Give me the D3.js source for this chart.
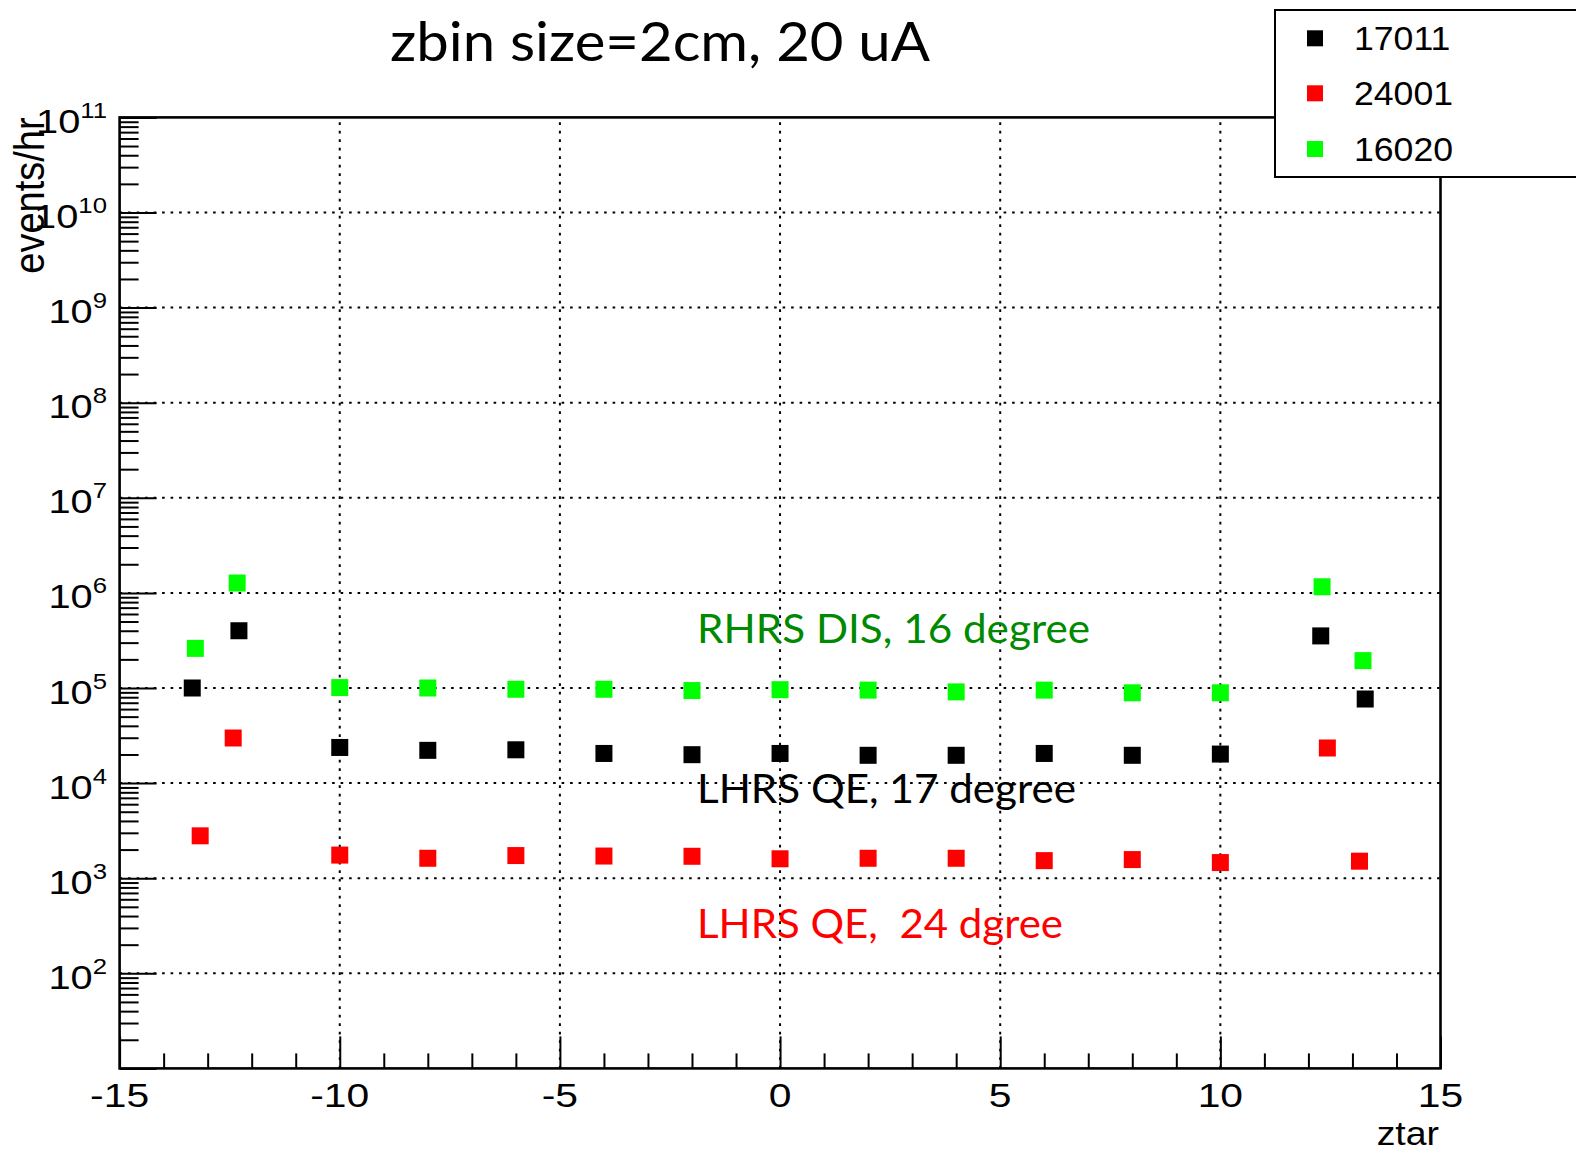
<!DOCTYPE html>
<html>
<head>
<meta charset="utf-8">
<script src="https://cdn.jsdelivr.net/npm/d3@7"></script>
<style>
  html, body { margin: 0; padding: 0; background: #fff; }
  svg { display: block; }
  text { white-space: pre; }
</style>
</head>
<body>
<svg id="chart" width="1576" height="1153"></svg>
<script>
// ---------------- data ----------------
const seriesNames = ["17011", "24001", "16020"];
const seriesColors = ["#000000", "#ff0000", "#00ff00"];

const x17011 = [-13.35, -12.29, -10, -8, -6, -4, -2, 0, 2, 4, 6, 8, 10, 12.28, 13.29];
const y17011 = [1.0e5, 4.0e5, 2.37e4, 2.21e4, 2.24e4, 2.05e4, 1.99e4, 2.05e4, 1.96e4, 1.96e4, 2.05e4, 1.96e4, 2.02e4, 3.53e5, 7.66e4];

const x24001 = [-13.17, -12.42, -10, -8, -6, -4, -2, 0, 2, 4, 6, 8, 10, 12.43, 13.16];
const y24001 = [2.79e3, 2.98e4, 1.75e3, 1.62e3, 1.73e3, 1.71e3, 1.70e3, 1.60e3, 1.62e3, 1.62e3, 1.53e3, 1.57e3, 1.46e3, 2.34e4, 1.51e3];

const x16020 = [-13.28, -12.33, -10, -8, -6, -4, -2, 0, 2, 4, 6, 8, 10, 12.31, 13.24];
const y16020 = [2.61e5, 1.27e6, 1.01e5, 1.0e5, 0.97e5, 0.97e5, 0.94e5, 0.96e5, 0.95e5, 0.91e5, 0.95e5, 0.89e5, 0.89e5, 1.16e6, 1.94e5];

const xMajorTicks = [-15, -10, -5, 0, 5, 10, 15];
const xTickLabels = ["-15", "-10", "-5", "0", "5", "10", "15"];
const xGridTicks = [-10, -5, 0, 5, 10];
const yDecades = [1e1, 1e2, 1e3, 1e4, 1e5, 1e6, 1e7, 1e8, 1e9, 1e10, 1e11];
const yLabelExponents = ["2", "3", "4", "5", "6", "7", "8", "9", "10", "11"];

const titleText = "zbin size=2cm, 20 uA";
const xTitle = "ztar";
const yTitle = "events/hr";
const annotations = [
  { text: "RHRS DIS, 16 degree", color: "#008a00" },
  { text: "LHRS QE, 17 degree", color: "#000000" },
  { text: "LHRS QE,  24 dgree", color: "#ff0000" }
];

// ---------------- layout ----------------
const L = 119.6, R = 1440.5, T = 117.4, B = 1068.4;
const svg = d3.select("#chart");

const x = d3.scaleLinear().domain([-15, 15]).range([L, R]);
const y = d3.scaleLog().domain([1e1, 1e11]).range([B, T]);

const series = [
  { name: seriesNames[0], color: seriesColors[0], xs: x17011, ys: y17011 },
  { name: seriesNames[1], color: seriesColors[1], xs: x24001, ys: y24001 },
  { name: seriesNames[2], color: seriesColors[2], xs: x16020, ys: y16020 }
];

// grid
const grid = svg.append("g").attr("stroke", "#000").attr("stroke-width", 2)
  .attr("stroke-dasharray", "2.6,5.9").attr("fill", "none");
grid.selectAll("line.v").data(xGridTicks).join("line")
  .attr("x1", d => x(d)).attr("x2", d => x(d)).attr("y1", B).attr("y2", T);
grid.selectAll("line.h").data(yDecades.slice(1, -1)).join("line")
  .attr("y1", d => y(d)).attr("y2", d => y(d)).attr("x1", L).attr("x2", R);

// x minor ticks
const xMinor = d3.range(-14, 15).filter(v => v % 5 !== 0);
svg.append("g").attr("transform", `translate(0,${B})`)
  .call(d3.axisBottom(x).tickValues(xMinor).tickSizeInner(-15).tickSizeOuter(0).tickFormat(""))
  .call(g => g.select(".domain").remove())
  .call(g => g.selectAll("line").attr("stroke-width", 2));
// x major ticks
svg.append("g").attr("transform", `translate(0,${B})`)
  .call(d3.axisBottom(x).tickValues(xMajorTicks).tickSizeInner(-32).tickSizeOuter(0).tickFormat(""))
  .call(g => g.select(".domain").remove())
  .call(g => g.selectAll("line").attr("stroke-width", 2));

// y minor ticks
const yMinor = [];
yDecades.slice(0, -1).forEach(d => { for (let k = 2; k <= 9; k++) yMinor.push(d * k); });
svg.append("g").attr("transform", `translate(${L},0)`)
  .call(d3.axisLeft(y).tickValues(yMinor).tickSizeInner(-19).tickSizeOuter(0).tickFormat(""))
  .call(g => g.select(".domain").remove())
  .call(g => g.selectAll("line").attr("stroke-width", 2));
svg.append("g").attr("transform", `translate(${L},0)`)
  .call(d3.axisLeft(y).tickValues(yDecades).tickSizeInner(-37).tickSizeOuter(0).tickFormat(""))
  .call(g => g.select(".domain").remove())
  .call(g => g.selectAll("line").attr("stroke-width", 2));

// frame
svg.append("rect").attr("x", L).attr("y", T).attr("width", R - L).attr("height", B - T)
  .attr("fill", "none").attr("stroke", "#000").attr("stroke-width", 2.6);

// x tick labels
svg.append("g").selectAll("g").data(xMajorTicks).join("g")
  .attr("transform", d => `translate(${x(d)},1107) scale(1.2,1)`)
  .append("text").attr("text-anchor", "middle")
  .attr("font-family", "Liberation Sans, Arial, sans-serif").attr("font-size", 34)
  .text((d, i) => xTickLabels[i]);

// y tick labels
const yl = svg.append("g").selectAll("g").data(yDecades.slice(1)).join("g")
  .attr("transform", d => `translate(107,${y(d) + 15.5}) scale(1.17,1)`)
  .append("text").attr("text-anchor", "end")
  .attr("font-family", "Liberation Sans, Arial, sans-serif");
yl.append("tspan").attr("font-size", 34).text("10");
yl.append("tspan").attr("font-size", 22).attr("dy", -15).text((d, i) => yLabelExponents[i]);

// axis titles
svg.append("g").attr("transform", `translate(1439,1145) scale(1.1,1)`)
  .append("text").attr("text-anchor", "end")
  .attr("font-family", "Liberation Sans, Arial, sans-serif").attr("font-size", 34)
  .text(xTitle);
svg.append("g").attr("transform", `translate(43.5,${T}) scale(1.12,1) rotate(-90)`)
  .append("text").attr("text-anchor", "end")
  .attr("font-family", "Liberation Sans, Arial, sans-serif").attr("font-size", 38)
  .text(yTitle);

// annotations
const annoBase = [642.7, 803.3, 938.3];
const annoLen = [393, 379, 366];
svg.append("g").selectAll("text").data(annotations).join("text")
  .attr("x", 697).attr("y", (d, i) => annoBase[i])
  .attr("textLength", (d, i) => annoLen[i]).attr("lengthAdjust", "spacingAndGlyphs")
  .attr("font-family", "Lato, 'Open Sans', sans-serif").attr("font-size", 40)
  .attr("fill", d => d.color)
  .text(d => d.text);

// markers
const ms = 17;
series.forEach(s => {
  svg.append("g").selectAll("rect").data(s.xs.map((v, i) => [v, s.ys[i]])).join("rect")
    .attr("x", d => x(d[0]) - ms / 2).attr("y", d => y(d[1]) - ms / 2)
    .attr("width", ms).attr("height", ms).attr("fill", s.color);
});

// title
svg.append("text").attr("x", 390).attr("y", 61)
  .attr("textLength", 540).attr("lengthAdjust", "spacingAndGlyphs")
  .attr("font-family", "Lato, 'Open Sans', sans-serif").attr("font-size", 55)
  .text(titleText);

// legend
const lg = svg.append("g");
lg.append("rect").attr("x", 1275).attr("y", 10).attr("width", 400).attr("height", 167)
  .attr("fill", "#fff").attr("stroke", "#000").attr("stroke-width", 2);
const rowY = [38.3, 93.3, 149];
const rows = lg.selectAll("g.row").data(series).join("g").attr("class", "row");
rows.append("rect").attr("x", 1307).attr("y", (d, i) => rowY[i] - 8)
  .attr("width", 16).attr("height", 16).attr("fill", d => d.color);
rows.append("g").attr("transform", (d, i) => `translate(1354,${rowY[i] + 11.5}) scale(1.08,1)`)
  .append("text").attr("font-family", "Liberation Sans, Arial, sans-serif").attr("font-size", 33)
  .text(d => d.name);
</script>
</body>
</html>
